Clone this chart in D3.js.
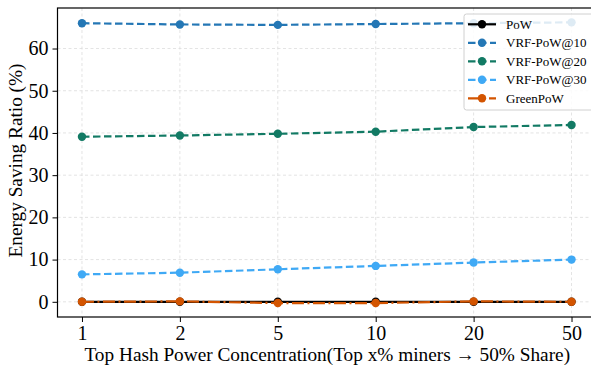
<!DOCTYPE html>
<html>
<head>
<meta charset="utf-8">
<script src="https://cdn.jsdelivr.net/npm/d3@7"></script>
<style>
  html, body { margin: 0; padding: 0; background: #fff; }
  svg { display: block; font-family: "Liberation Serif", "Times New Roman", serif; }
</style>
</head>
<body>
<svg id="chart" width="591" height="366"></svg>
<script>
// Concentration levels (top x% of miners holding 50% of hash power)
const categories = ["1", "2", "5", "10", "20", "50"];
const yTicks = [0, 10, 20, 30, 40, 50, 60];

// Energy saving ratio (%) per scheme
const powValues      = [0.0, 0.0, 0.0, 0.0, 0.0, 0.0];
const vrf10Values    = [66.0, 65.7, 65.6, 65.8, 66.0, 66.2];
const vrf20Values    = [39.1, 39.4, 39.8, 40.3, 41.4, 41.9];
const vrf30Values    = [6.5, 6.9, 7.7, 8.5, 9.3, 10.0];
const greenPowValues = [0.0, 0.1, -0.3, -0.3, 0.1, 0.0];

const seriesNames = ["PoW", "VRF-PoW@10", "VRF-PoW@20", "VRF-PoW@30", "GreenPoW"];
const seriesValues = [powValues, vrf10Values, vrf20Values, vrf30Values, greenPowValues];
const seriesColors = ["#000000", "#2477b5", "#127a64", "#3fa9f5", "#d35400"];
const seriesDashes = [null, "7.5,3.5", "7.5,3.5", "7.5,3.5", "12,3.5,2,3.5"];

const svg = d3.select("#chart");
const margin = { left: 57.5, top: 8, right: 596, bottom: 317 };

const x = d3.scalePoint().domain(categories).range([margin.left, margin.right]).padding(0.25);
const y = d3.scaleLinear().domain([-3.6, 69.6]).range([margin.bottom, margin.top]);

// clip region for plot content
svg.append("defs").append("clipPath").attr("id", "plotClip")
  .append("rect").attr("x", margin.left).attr("y", margin.top)
  .attr("width", margin.right - margin.left).attr("height", margin.bottom - margin.top);

// grid
const grid = svg.append("g").attr("stroke", "#dcdcdc").attr("stroke-width", 0.8)
  .attr("stroke-dasharray", "3,2.5");
grid.selectAll(".gy").data(yTicks).join("line")
  .attr("x1", margin.left).attr("x2", margin.right)
  .attr("y1", d => y(d)).attr("y2", d => y(d));
grid.selectAll(".gx").data(categories).join("line")
  .attr("x1", d => x(d)).attr("x2", d => x(d))
  .attr("y1", margin.top).attr("y2", margin.bottom);

// series lines and markers
const plot = svg.append("g").attr("clip-path", "url(#plotClip)");
const line = d3.line().x((d, i) => x(categories[i])).y(d => y(d));
seriesValues.forEach((vals, k) => {
  const g = plot.append("g");
  g.append("path").datum(vals)
    .attr("d", line)
    .attr("fill", "none")
    .attr("stroke", seriesColors[k])
    .attr("stroke-width", 2.2)
    .attr("stroke-dasharray", seriesDashes[k]);
  g.selectAll("circle").data(vals).join("circle")
    .attr("cx", (d, i) => x(categories[i]))
    .attr("cy", d => y(d))
    .attr("r", 4.2)
    .attr("fill", seriesColors[k]);
});

// axes
const xAxis = d3.axisBottom(x).tickSize(5).tickPadding(4);
const yAxis = d3.axisLeft(y).tickValues(yTicks).tickSize(5).tickPadding(4);

const gx = svg.append("g").attr("transform", `translate(0,${margin.bottom})`).call(xAxis);
const gy = svg.append("g").attr("transform", `translate(${margin.left},0)`).call(yAxis);
[gx, gy].forEach(g => {
  g.select(".domain").remove();
  g.selectAll("line").attr("stroke", "#000").attr("stroke-width", 1);
  g.selectAll("text").attr("fill", "#000").attr("font-size", 20)
    .attr("font-family", "Liberation Serif, Times New Roman, serif");
});

// frame
svg.append("rect")
  .attr("x", margin.left).attr("y", margin.top)
  .attr("width", margin.right - margin.left).attr("height", margin.bottom - margin.top)
  .attr("fill", "none").attr("stroke", "#000").attr("stroke-width", 1.2);

// axis titles
svg.append("text")
  .attr("x", (margin.left + margin.right) / 2 + 0.5).attr("y", 360.5)
  .attr("text-anchor", "middle").attr("font-size", 19.3).attr("fill", "#000")
  .text("Top Hash Power Concentration(Top x% miners \u2192 50% Share)");
svg.append("text")
  .attr("transform", `translate(22,${(margin.top + margin.bottom) / 2 - 2}) rotate(-90)`)
  .attr("text-anchor", "middle").attr("font-size", 19.3).attr("fill", "#000")
  .text("Energy Saving Ratio (%)");

// legend
const lg = svg.append("g").attr("transform", "translate(464,14)");
lg.append("rect").attr("width", 132).attr("height", 96).attr("rx", 2.5)
  .attr("fill", "#fff").attr("fill-opacity", 0.85)
  .attr("stroke", "#d0d0d0").attr("stroke-width", 1);
seriesNames.forEach((name, k) => {
  const yy = 10.3 + k * 18.5;
  lg.append("line").attr("x1", 4).attr("x2", 32).attr("y1", yy).attr("y2", yy)
    .attr("stroke", seriesColors[k]).attr("stroke-width", 2.2)
    .attr("stroke-dasharray", seriesDashes[k]);
  lg.append("circle").attr("cx", 18).attr("cy", yy).attr("r", 4.2).attr("fill", seriesColors[k]);
  lg.append("text").attr("x", 42).attr("y", yy + 4.5).attr("font-size", 13)
    .attr("fill", "#000").text(name);
});
</script>
</body>
</html>
